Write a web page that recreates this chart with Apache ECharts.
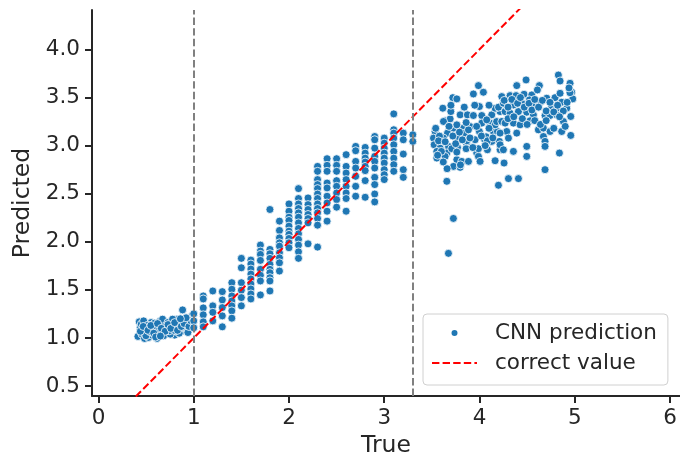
<!DOCTYPE html>
<html>
<head>
<meta charset="utf-8">
<script src="https://cdn.jsdelivr.net/npm/echarts@6/dist/echarts.min.js"></script>
<style>
  html, body { margin: 0; padding: 0; background: #fff; }
  #chart { width: 680px; height: 458px; }
</style>
</head>
<body>
<div id="chart"></div>
<script>
// Predictions below the first cut (true value under 1.0)
const lowRange = [
  [0.428,1.168],[0.414,1.016],[0.439,1.109],[0.463,1.075],[0.491,1.126],[0.509,1.057],
  [0.533,1.109],[0.554,1.161],[0.579,1.092],[0.596,1.040],[0.614,0.995],[0.631,1.126],
  [0.649,1.178],[0.666,1.075],[0.694,1.154],[0.719,1.050],[0.736,1.120],[0.764,1.168],
  [0.771,1.092],[0.799,1.030],[0.813,1.144],[0.841,1.099],[0.869,1.161],[0.883,1.292],
  [0.893,1.075],[0.918,1.133],[0.946,1.189],[0.963,1.109],[0.981,1.230],[0.456,1.040],
  [0.484,0.995],[0.526,1.006],[0.561,1.030],[0.684,1.023],[0.701,1.109],[0.754,1.040],
  [0.823,1.196],[0.848,1.050],[0.928,1.092],[0.449,1.144],[0.474,1.178],[0.498,1.023],
  [0.544,1.064],[0.589,1.154],[0.603,1.092],[0.659,1.133],[0.673,1.196],[0.729,1.161],
  [0.743,1.075],[0.789,1.126],[0.806,1.075],[0.858,1.109],[0.904,1.178],[0.939,1.057],
  [0.974,1.144],[0.519,1.133],[0.568,1.120],[0.638,1.050],[0.778,1.196],
  [0.440,1.070],[0.470,1.120],[0.520,1.080],[0.550,1.130],[0.580,1.050],[0.620,1.150],
  [0.660,1.100],[0.700,1.070],[0.730,1.140],[0.760,1.100],[0.800,1.160],[0.830,1.080],
  [0.870,1.120],[0.900,1.150],[0.950,1.120],[0.970,1.180],[0.920,1.210],[0.860,1.200],
  [0.600,1.010],[0.650,1.020]
];

// Middle range: true values come in steps of 0.1
const midTrue = [1.0, 1.1, 1.2, 1.3, 1.4, 1.5, 1.6, 1.7, 1.8, 1.9, 2.0, 2.1,
                 2.2, 2.3, 2.4, 2.5, 2.6, 2.7, 2.8, 2.9, 3.0, 3.1, 3.2, 3.3];
const midPred = [
  [1.251, 1.178, 1.106],
  [1.437, 1.406, 1.313, 1.241, 1.168, 1.116],
  [1.489, 1.334, 1.267, 1.178],
  [1.482, 1.396, 1.316, 1.230, 1.116],
  [1.575, 1.507, 1.437, 1.385, 1.334, 1.282, 1.206],
  [1.828, 1.730, 1.575, 1.497, 1.420, 1.334],
  [1.810, 1.769, 1.717, 1.665, 1.614, 1.562, 1.510, 1.458, 1.406],
  [1.966, 1.904, 1.869, 1.807, 1.714, 1.652, 1.593, 1.448],
  [2.336, 1.921, 1.876, 1.828, 1.766, 1.714, 1.679, 1.627, 1.593, 1.489],
  [2.215, 2.118, 2.041, 1.990, 1.955, 1.886, 1.834, 1.782, 1.696],
  [2.394, 2.318, 2.256, 2.222, 2.163, 2.111, 2.077, 2.035, 1.990, 1.938],
  [2.553, 2.450, 2.394, 2.346, 2.301, 2.256, 2.197, 2.139, 2.083, 2.025, 1.966, 1.896, 1.828],
  [2.456, 2.387, 2.336, 2.284, 2.242, 2.197, 1.979],
  [2.784, 2.733, 2.647, 2.595, 2.553, 2.497, 2.450, 2.394, 2.346, 2.301, 2.242, 2.173, 1.945],
  [2.864, 2.795, 2.733, 2.611, 2.560, 2.474, 2.404, 2.318, 2.215],
  [2.864, 2.795, 2.733, 2.636, 2.577, 2.508, 2.439, 2.360],
  [2.906, 2.784, 2.715, 2.647, 2.577, 2.508, 2.450, 2.318],
  [2.992, 2.947, 2.836, 2.767, 2.681, 2.577, 2.474],
  [2.981, 2.922, 2.870, 2.829, 2.784, 2.740, 2.636, 2.463],
  [3.095, 3.061, 2.974, 2.888, 2.836, 2.767, 2.670, 2.595, 2.497, 2.415],
  [3.078, 3.026, 2.974, 2.922, 2.870, 2.819, 2.750, 2.698, 2.647],
  [3.330, 3.165, 3.130, 3.078, 3.009, 2.940, 2.870, 2.802, 2.733],
  [3.130, 3.061, 2.912, 2.750, 2.670],
  [3.113, 3.044]
];

// Predictions above the second cut (true value over 3.3)
const highRange = [
  [3.615,3.389],[3.720,3.499],[3.762,3.486],[3.936,3.537],[3.989,3.624],[4.041,3.555],
  [3.999,3.406],[3.639,3.258],[3.692,3.278],[3.797,3.320],[3.873,3.320],[3.936,3.313],
  [4.024,3.313],[4.129,3.320],[4.111,3.234],[4.024,3.234],[3.901,3.199],[3.832,3.182],
  [3.727,3.182],[3.664,3.130],[3.534,3.147],[3.517,3.078],[3.622,3.078],[3.762,3.085],
  [3.849,3.130],[3.999,3.147],[4.146,3.147],[4.188,3.147],[4.216,3.354],[4.164,3.389],
  [3.524,3.009],[3.587,2.974],[3.674,2.992],[3.769,2.981],[3.867,3.009],[3.954,3.061],
  [4.048,3.071],[4.129,3.044],[4.209,3.044],[3.552,2.940],[3.657,2.923],[3.709,2.968],
  [3.860,2.968],[3.971,2.923],[4.083,2.957],[4.216,2.957],[3.552,2.871],[3.639,2.888],
  [3.762,2.854],[3.814,2.836],[3.989,2.888],[4.164,2.843],[3.727,2.784],[3.797,2.774],
  [4.006,2.836],[3.657,2.629],[4.199,2.588],[3.699,3.354],[3.622,3.251],[4.076,3.268],
  [4.164,3.216],[3.726,2.243],[3.674,1.880],
  [3.762,3.216],[3.884,3.164],[4.069,3.092],[3.580,3.099],[3.867,3.050],[4.083,3.050],
  [3.762,2.933],[3.989,2.968],[4.216,3.009],[3.884,2.836],
  [3.540,3.180],[3.570,3.050],[3.600,2.940],[3.640,3.040],[3.680,3.200],[3.720,3.100],
  [3.750,3.020],[3.790,3.140],[3.820,3.060],[3.860,3.240],[3.900,3.080],[3.930,2.980],
  [3.970,3.200],[4.020,3.100],[4.060,3.000],[4.100,3.180],[4.140,3.080],[4.180,3.250],
  [4.200,3.400],[4.100,3.420],[3.950,3.420],[3.840,3.400],[3.700,3.420],[3.560,2.900],
  [3.620,2.830],[3.800,2.800],[3.660,2.760],
  [4.489,3.683],[4.391,3.624],[4.629,3.624],[4.828,3.734],[4.846,3.672],[4.951,3.648],
  [4.968,3.555],[4.979,3.486],[4.234,3.510],[4.321,3.520],[4.384,3.520],[4.468,3.534],
  [4.549,3.527],[4.608,3.579],[4.251,3.441],[4.356,3.423],[4.444,3.441],[4.524,3.475],
  [4.566,3.406],[4.636,3.451],[4.706,3.493],[4.793,3.499],[4.846,3.544],[4.863,3.451],
  [4.758,3.406],[4.811,3.389],[4.916,3.389],[4.958,3.303],[4.269,3.354],[4.321,3.337],
  [4.409,3.354],[4.496,3.347],[4.566,3.320],[4.688,3.313],[4.741,3.313],[4.811,3.320],
  [4.881,3.251],[4.234,3.251],[4.356,3.234],[4.426,3.216],[4.269,3.234],[4.531,3.258],
  [4.618,3.164],[4.671,3.182],[4.741,3.147],[4.863,3.147],[4.958,3.106],[4.286,3.147],
  [4.216,3.130],[4.391,3.130],[4.304,3.078],[4.671,3.095],[4.688,3.044],[4.251,2.957],
  [4.356,2.940],[4.496,2.992],[4.496,2.888],[4.688,2.992],[4.839,2.923],[4.258,2.819],
  [4.688,2.750],[4.304,2.657],[4.409,2.657],
  [4.260,3.470],[4.300,3.400],[4.340,3.480],[4.400,3.440],[4.430,3.500],[4.470,3.400],
  [4.520,3.440],[4.550,3.370],[4.580,3.480],[4.620,3.400],[4.660,3.470],[4.700,3.360],
  [4.740,3.450],[4.780,3.350],[4.820,3.420],[4.880,3.360],[4.920,3.450],[4.300,3.280],
  [4.360,3.300],[4.450,3.280],[4.500,3.220],[4.580,3.260],[4.640,3.220],[4.700,3.260],
  [4.780,3.180],[4.840,3.300],[4.900,3.200],[4.950,3.550],[4.940,3.600]
];

const xTicks = [0, 1, 2, 3, 4, 5, 6];
const yTicks = [0.5, 1.0, 1.5, 2.0, 2.5, 3.0, 3.5, 4.0];
const cutMarks = [1.0, 3.3];
const identityLine = [[0, 0], [5, 5]];

const points = lowRange
  .concat(midTrue.flatMap((x, i) => midPred[i].map(y => [x, y])))
  .concat(highRange);

const ink = '#262626';
const font = 'DejaVu Sans';
const dash = [7.4, 3.2];
// dashed stroke used as the legend key of the reference line
const dashedKey = 'path://M0,0h7.4v2h-7.4z M10.6,0h7.4v2h-7.4z M21.2,0h7.4v2h-7.4z M31.8,0h7.4v2h-7.4z M42.4,0h2.6v2h-2.6z';

const chart = echarts.init(document.getElementById('chart'), null, { renderer: 'canvas' });
chart.setOption({
  animation: false,
  backgroundColor: '#ffffff',
  textStyle: { fontFamily: font, color: ink },
  grid: { left: 92, right: 0, top: 10, bottom: 62, containLabel: false, outerBoundsMode: 'none' },
  xAxis: {
    type: 'value',
    min: -0.068,
    max: 6.105,
    name: 'True',
    nameLocation: 'middle',
    nameGap: 35,
    nameTextStyle: { fontSize: 23.5, color: ink, fontFamily: font },
    axisLine: { show: true, onZero: false, lineStyle: { color: ink, width: 2 } },
    axisTick: { show: true, length: 7, lineStyle: { color: ink, width: 2 }, customValues: xTicks },
    axisLabel: { fontSize: 21.5, color: ink, fontFamily: font, margin: 11, customValues: xTicks },
    splitLine: { show: false }
  },
  yAxis: {
    type: 'value',
    min: 0.397,
    max: 4.41,
    name: 'Predicted',
    nameLocation: 'middle',
    nameGap: 56,
    nameTextStyle: { fontSize: 23.5, color: ink, fontFamily: font },
    axisLine: { show: true, onZero: false, lineStyle: { color: ink, width: 2 } },
    axisTick: { show: true, length: 7, lineStyle: { color: ink, width: 2 }, customValues: yTicks },
    axisLabel: {
      fontSize: 21.5, color: ink, fontFamily: font, margin: 12, customValues: yTicks,
      formatter: v => v.toFixed(1)
    },
    splitLine: { show: false }
  },
  legend: {
    orient: 'vertical',
    left: 423,
    top: 314,
    padding: [6, 11, 9, 9],
    itemWidth: 45,
    itemHeight: 8,
    itemGap: 4,
    borderColor: '#d0d0d0',
    borderWidth: 1,
    borderRadius: 4,
    backgroundColor: 'rgba(255,255,255,0.8)',
    textStyle: { fontSize: 21.5, color: ink, fontFamily: font, lineHeight: 26, padding: [0, 0, 0, 13] },
    data: [
      { name: 'CNN prediction', icon: 'circle' },
      { name: 'correct value', icon: dashedKey, itemStyle: { color: '#ff0000', borderWidth: 0 } }
    ]
  },
  series: [
    {
      name: 'CNN prediction',
      type: 'scatter',
      data: points,
      symbol: 'circle',
      symbolSize: 8,
      itemStyle: { color: '#1f77b4', borderColor: '#ffffff', borderWidth: 0.8, opacity: 1 },
      z: 2
    },
    {
      name: 'cuts',
      type: 'line',
      data: [],
      silent: true,
      z: 3,
      markLine: {
        silent: true,
        symbol: ['none', 'none'],
        label: { show: false },
        lineStyle: { color: '#808080', width: 2, type: dash },
        emphasis: { disabled: true },
        data: cutMarks.map(v => ({ xAxis: v }))
      }
    },
    {
      name: 'correct value',
      type: 'line',
      data: identityLine,
      symbol: 'none',
      showSymbol: false,
      clip: true,
      lineStyle: { color: '#ff0000', width: 2, type: dash },
      itemStyle: { color: '#ff0000' },
      z: 4
    }
  ]
});
</script>
</body>
</html>
